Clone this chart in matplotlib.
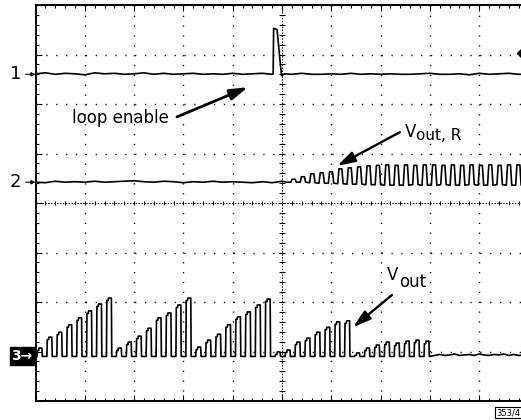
import numpy as np
import matplotlib.pyplot as plt

# scope screen, 10 x 8 divisions
# ch1: loop enable (flat with one short pulse)
ch1_t = [0.00, 0.20, 0.40, 0.60, 0.80, 1.00, 1.20, 1.40, 1.60, 1.80,
         2.00, 2.20, 2.40, 2.60, 2.80, 3.00, 3.20, 3.40, 3.60, 3.80,
         4.00, 4.20, 4.40, 4.60, 4.80, 4.82, 4.83, 4.90, 4.99, 5.05,
         5.20, 5.40, 5.60, 5.80, 6.00, 6.20, 6.40, 6.60, 6.80, 7.00,
         7.20, 7.40, 7.60, 7.80, 8.00, 8.20, 8.40, 8.60, 8.80, 9.00,
         9.20, 9.40, 9.60, 9.80, 10.00]
ch1_v = [6.61, 6.63, 6.60, 6.62, 6.61, 6.59, 6.63, 6.61, 6.62, 6.60,
         6.61, 6.63, 6.60, 6.62, 6.60, 6.61, 6.62, 6.60, 6.61, 6.60,
         6.62, 6.60, 6.61, 6.62, 6.60, 6.60, 7.53, 7.50, 6.57, 6.61,
         6.60, 6.62, 6.60, 6.60, 6.61, 6.60, 6.62, 6.60, 6.61, 6.60,
         6.61, 6.60, 6.60, 6.61, 6.62, 6.60, 6.60, 6.61, 6.59, 6.62,
         6.60, 6.61, 6.62, 6.60, 6.60]
ch1_level = 6.60

# ch2: Vout,R - quiet, then square wave building up after loop enable
ch2_pre_t = [0.00, 0.20, 0.40, 0.60, 0.80, 1.00, 1.20, 1.40, 1.60, 1.80,
             2.00, 2.20, 2.40, 2.60, 2.80, 3.00, 3.20, 3.40, 3.60, 3.80,
             4.00, 4.20, 4.40, 4.60, 4.80, 5.00, 5.10]
ch2_pre_v = [4.42, 4.41, 4.44, 4.42, 4.43, 4.42, 4.44, 4.42, 4.43, 4.44,
             4.45, 4.43, 4.42, 4.44, 4.43, 4.41, 4.43, 4.42, 4.44, 4.42,
             4.43, 4.42, 4.41, 4.43, 4.41, 4.44, 4.42]
ch2_start = 5.18
ch2_period = 0.19
ch2_tops = [4.48, 4.53, 4.59, 4.61, 4.63, 4.69, 4.71, 4.73, 4.75, 4.76,
            4.77, 4.76, 4.77, 4.76, 4.77, 4.77, 4.76, 4.77, 4.76, 4.77,
            4.76, 4.77, 4.76, 4.77, 4.77, 4.76]
ch2_lows = [4.42, 4.42, 4.41, 4.40, 4.40, 4.39, 4.38, 4.38, 4.37, 4.37,
            4.36, 4.36, 4.36, 4.37, 4.36, 4.36, 4.37, 4.36, 4.36, 4.37,
            4.36, 4.36, 4.37, 4.36, 4.36, 4.36]
ch2_level = 4.42

# ch3: Vout - bursts of growing pulses, dying out after loop enable
ch3_start = 0.03
ch3_period = 0.2013
ch3_low = 0.90
ch3_tops = [1.07, 1.29, 1.39, 1.54, 1.68, 1.82, 1.96, 2.08,
            1.07, 1.19, 1.31, 1.47, 1.68, 1.78, 1.94, 2.08,
            1.09, 1.23, 1.35, 1.54, 1.70, 1.80, 1.94, 2.06,
            0.99, 1.03, 1.19, 1.27, 1.39, 1.49, 1.60, 1.62,
            0.97, 1.07, 1.13, 1.19, 1.17, 1.21, 1.23, 1.21]
ch3_tail_t = [8.10, 8.20, 8.30, 8.40, 8.50, 8.60, 8.70, 8.80, 8.90, 9.00,
              9.10, 9.20, 9.30, 9.40, 9.50, 9.60, 9.70, 9.80, 9.90, 10.00]
ch3_tail_v = [0.92, 0.94, 0.92, 0.93, 0.95, 0.92, 0.93, 0.94, 0.92, 0.95,
              0.93, 0.92, 0.94, 0.93, 0.95, 0.92, 0.94, 0.92, 0.93, 0.94]
ch3_level = 0.91

trig_level = 7.03


def square_wave(t0, period, tops, lows):
    t, v = [], []
    for i, (h, lo) in enumerate(zip(tops, lows)):
        s = t0 + i * period
        t += [s, s + 0.025, s + 0.085, s + 0.11]
        v += [lo, h, h, lo]
    return t, v


def pulse_train(t0, period, tops, low):
    t, v = [], []
    for i, h in enumerate(tops):
        s = t0 + i * period
        t += [s, s + 0.008, s + 0.035, s + 0.04, s + 0.1, s + 0.108]
        v += [low, h - 0.05, h - 0.05, h, h, low]
    return t, v


fig = plt.figure(figsize=(5.21, 4.2), dpi=100)
ax = fig.add_axes([35.5 / 521, 19 / 420, 493 / 521, 396 / 420])
ax.set_xlim(0, 10)
ax.set_ylim(0, 8)

# graticule
ax.vlines([1, 2, 3, 4, 6, 7, 8, 9], 0, 8, colors='k', lw=1.0,
          linestyles=(0, (0.9, 6.2)))
ax.hlines([1, 2, 3, 5, 6, 7], 0, 10, colors='k', lw=1.0,
          linestyles=(0, (0.9, 6.2)))
ax.axhline(4, color='k', lw=0.7, ls=(0, (1.5, 1.5)))
ax.axvline(5, color='k', lw=0.7, ls=(0, (1.5, 1.5)))
ax.vlines(np.arange(0.2, 10, 0.2), 3.95, 4.05, colors='k', lw=0.7)
ax.hlines(np.arange(0.2, 8, 0.2), 4.94, 5.06, colors='k', lw=0.7)

ax.set_xticks(range(11))
ax.set_xticks(np.arange(0, 10.01, 0.2), minor=True)
ax.set_yticks(range(9))
ax.set_yticks(np.arange(0, 8.01, 0.2), minor=True)
ax.tick_params(which='both', direction='in', top=True, right=True,
               labelbottom=False, labelleft=False, width=0.8)
ax.tick_params(which='major', length=4)
ax.tick_params(which='minor', length=2.5)
for side in ['left', 'bottom', 'top', 'right']:
    ax.spines[side].set_linewidth(1.4)

# traces
ax.plot(ch1_t, ch1_v, color='k', lw=1.2)

t2, v2 = square_wave(ch2_start, ch2_period, ch2_tops, ch2_lows)
ax.plot(ch2_pre_t + t2, ch2_pre_v + v2, color='k', lw=1.2)

t3, v3 = pulse_train(ch3_start, ch3_period, ch3_tops, ch3_low)
ax.plot([0.0] + t3 + ch3_tail_t, [0.92] + v3 + ch3_tail_v, color='k', lw=1.2)

ax.plot([9.87], [trig_level], 'kD', ms=5, clip_on=False)

# channel markers
arr = dict(arrowstyle='-|>', lw=0.8, color='k', mutation_scale=6,
           shrinkA=0, shrinkB=0)
for lab, lvl in [('1', ch1_level), ('2', ch2_level)]:
    ax.annotate(lab, xy=(0, lvl), xytext=(-10, 0), textcoords='offset points',
                ha='right', va='center', fontsize=13, annotation_clip=False)
    ax.annotate('', xy=(0, lvl), xytext=(-7, 0), textcoords='offset points',
                arrowprops=arr, annotation_clip=False)
ax.annotate('3\u2192', xy=(0, ch3_level), xytext=(-2, 0),
            textcoords='offset points', ha='right', va='center',
            fontsize=10, fontweight='bold', color='white',
            bbox=dict(boxstyle='square,pad=0.12', fc='k', ec='k'),
            annotation_clip=False)

# labels and pointers
big = dict(arrowstyle='-|>,head_length=0.6,head_width=0.18', lw=2.0,
           color='k', mutation_scale=18, shrinkA=0, shrinkB=0)
mid = dict(arrowstyle='-|>,head_length=0.6,head_width=0.18', lw=1.7,
           color='k', mutation_scale=18, shrinkA=0, shrinkB=0)

ax.text(0.74, 5.62, 'loop enable', fontsize=12, va='baseline')
ax.annotate('', xy=(4.31, 6.34), xytext=(2.87, 5.74), arrowprops=big)

ax.text(7.49, 5.33, 'V', fontsize=12, va='baseline')
ax.text(7.72, 5.27, 'out, R', fontsize=11, va='baseline')
ax.annotate('', xy=(6.12, 4.75), xytext=(7.39, 5.43), arrowprops=mid)

ax.text(7.13, 2.44, 'V', fontsize=12, va='baseline')
ax.text(7.37, 2.30, 'out', fontsize=12, va='baseline')
ax.annotate('', xy=(6.44, 1.49), xytext=(7.23, 2.14), arrowprops=mid)

fig.text(508.5 / 521, 1 - 412.5 / 420, '353/4', ha='center', va='center',
         fontsize=6, bbox=dict(boxstyle='square,pad=0.15', fc='white',
                               ec='k', lw=0.8))

fig.savefig('out.png', dpi=100)
